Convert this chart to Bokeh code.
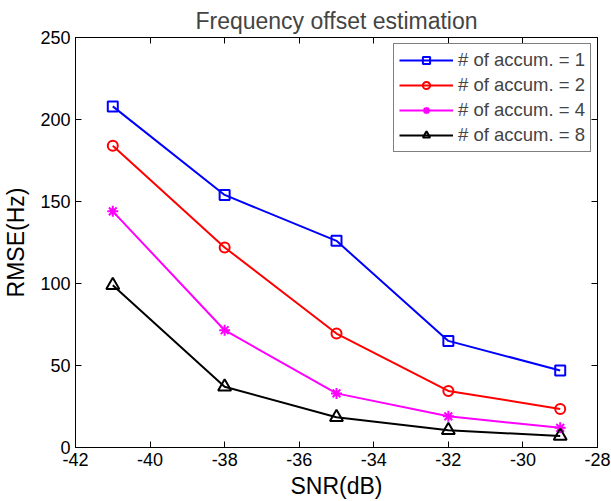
from bokeh.plotting import figure
from bokeh.models import LinearAxis, Range1d, FixedTicker, Legend
from bokeh.embed import file_html
from bokeh.resources import INLINE

snr = [-41, -38, -35, -32, -29]
acc1 = [208, 154, 126, 65, 47]
acc2 = [184, 122, 69.5, 34.5, 23.5]
acc4 = [144, 71.5, 33, 19, 12]
acc8 = [99, 37, 18.5, 10.5, 7]
labels = ["# of accum. = 1", "# of accum. = 2", "# of accum. = 4", "# of accum. = 8"]
colors = ["#0000ff", "#ff0000", "#ff00ff", "#000000"]
markers = ["square", "circle", "asterisk", "triangle"]
sizes = [10, 10, 11, 13]
xticks = [-42, -40, -38, -36, -34, -32, -30, -28]
yticks = [0, 50, 100, 150, 200, 250]

FONT = "Liberation Sans"

p = figure(width=611, height=501, output_backend="svg", toolbar_location=None,
           x_range=Range1d(-42, -28), y_range=Range1d(0, 250),
           x_axis_type=None, y_axis_type=None,
           min_border_left=75, min_border_right=14, min_border_top=37, min_border_bottom=54)
p.xgrid.visible = False
p.ygrid.visible = False
p.outline_line_color = "black"
p.outline_line_width = 1
p.background_fill_color = "white"
p.border_fill_color = "white"

def mk_axis(ticks, show_labels, label=None, label_standoff=0):
    ax = LinearAxis(ticker=FixedTicker(ticks=ticks))
    ax.major_tick_in = 6
    ax.major_tick_out = 0
    ax.minor_tick_line_color = None
    ax.axis_line_color = "black"
    ax.major_tick_line_color = "black"
    ax.major_label_text_font = FONT
    ax.major_label_text_color = "black"
    ax.major_label_text_font_size = "18px"
    if show_labels:
        ax.major_label_overrides = {t: str(t) for t in ticks}
        ax.major_label_standoff = 5
    else:
        ax.major_label_overrides = {t: "" for t in ticks}
        ax.major_label_standoff = 0
    if label:
        ax.axis_label = label
        ax.axis_label_text_font = FONT
        ax.axis_label_text_font_size = "23px"
        ax.axis_label_text_font_style = "normal"
        ax.axis_label_text_color = "black"
        ax.axis_label_standoff = label_standoff
    return ax

p.add_layout(mk_axis(xticks, True, "SNR(dB)", 4), "below")
p.add_layout(mk_axis(yticks, True, "RMSE(Hz)", 8), "left")
p.add_layout(mk_axis(xticks, False), "above")
p.add_layout(mk_axis(yticks, False), "right")

p.title.text = "Frequency offset estimation"
p.title.text_font = FONT
p.title.text_font_size = "23px"
p.title.text_font_style = "normal"
p.title.align = "center"
p.title.standoff = 7
p.title.text_line_height = 1.0

items = []
for ys, lab, c, m, s in zip([acc1, acc2, acc4, acc8], labels, colors, markers, sizes):
    r1 = p.line(snr, ys, line_color=c, line_width=2)
    r2 = p.scatter(snr, ys, marker=m, size=s, line_color=c, fill_color=None, line_width=2)
    items.append((lab, [r1, r2]))

leg = Legend(items=items, location="top_right")
leg.label_text_font = FONT
leg.label_text_font_size = "18.5px"
leg.label_height = 18
leg.glyph_height = 18
leg.glyph_width = 54
leg.spacing = 3
leg.padding = 5
leg.margin = 6
leg.label_standoff = 5
leg.border_line_color = "black"
leg.border_line_width = 1
leg.background_fill_color = "white"
leg.background_fill_alpha = 1
p.add_layout(leg, "center")

open("out.html", "w").write(file_html(p, INLINE))
